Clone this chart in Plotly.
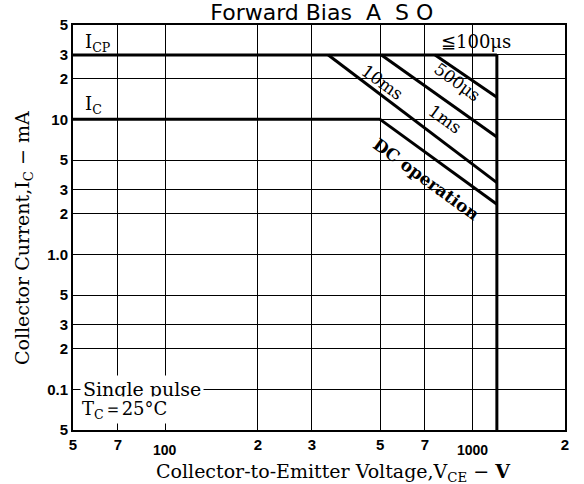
import plotly.graph_objects as go
import math

# ---- data ----
voltage_ticks = [50, 70, 100, 200, 300, 500, 700, 1000, 2000]
voltage_labels = ["5", "7", "", "2", "3", "5", "7", "", "2"]
voltage_decade_ticks = [100, 1000]
voltage_decade_labels = ["100", "1000"]
current_ticks = [0.05, 0.1, 0.2, 0.3, 0.5, 1, 2, 3, 5, 10, 20, 30, 50]
current_labels = ["5", "0.1", "2", "3", "5", "1.0", "2", "3", "5", "10", "2", "3", "5"]

icp_v = [50, 1200]
icp_i = [30, 30]
ic_v = [50, 500]
ic_i = [10, 10]
dc_v = [500, 1200]
dc_i = [10, 2.35]
ms10_v = [339, 1200]
ms10_i = [30, 3.4]
ms1_v = [505, 1200]
ms1_i = [30, 7.4]
us500_v = [755, 1200]
us500_i = [30, 14.6]
limit_v = [1200, 1200]
limit_i = [30, 0.05]

fig = go.Figure()
for xs, ys in [(icp_v, icp_i), (ic_v, ic_i), (dc_v, dc_i), (ms10_v, ms10_i),
               (ms1_v, ms1_i), (us500_v, us500_i), (limit_v, limit_i)]:
    fig.add_trace(go.Scatter(x=xs, y=ys, mode="lines",
                             line=dict(color="black", width=3),
                             showlegend=False, hoverinfo="skip"))

serif = "DejaVu Serif, Liberation Serif, serif"
lab = dict(font=dict(family=serif, size=17, color="black"), showarrow=False)

def ann(x, y, text, **kw):
    d = dict(lab)
    d.update(kw)
    fig.add_annotation(x=math.log10(x), y=math.log10(y), text=text, **d)

ann(54, 37.0, "I<sub>CP</sub>", xanchor="left", font=dict(family=serif, size=18, color="black"))
ann(54, 12.8, "I<sub>C</sub>", xanchor="left", font=dict(family=serif, size=18, color="black"))
ann(1030, 37.8, "≦100μs", font=dict(family=serif, size=18, color="black"))
ann(891, 18.8, "500μs", textangle=36)
ann(813, 10, "1ms", textangle=36)
ann(507, 18.8, "10ms", textangle=36)
ann(705, 3.6, "<b>DC operation</b>", textangle=36)
ann(52.5, 0.1, "Single pulse", xanchor="left", bgcolor="white", borderpad=2,
    font=dict(family=serif, size=19, color="black"))
ann(52.5, 0.07, "T<sub>C</sub>＝25°C", xanchor="left", bgcolor="white",
    font=dict(family=serif, size=18, color="black"))

tickfont = dict(family="Liberation Sans, Arial, sans-serif", size=15, color="black",
                weight="bold")

# second-row decade labels on the x axis
for v, t in zip(voltage_decade_ticks, voltage_decade_labels):
    fig.add_annotation(x=math.log10(v), y=0, xref="x", yref="paper", text=t,
                       showarrow=False, yanchor="middle", yshift=-20,
                       font=dict(family="Liberation Sans, Arial, sans-serif", size=14,
                                 color="black", weight="bold"))

# axis titles
fig.add_annotation(x=0.530, y=0, xref="paper", yref="paper", yshift=-42,
                   yanchor="middle", showarrow=False,
                   text="Collector-to-Emitter Voltage,V<sub>CE</sub> − <b>V</b>",
                   font=dict(family=serif, size=19, color="black"))
fig.add_annotation(x=0, y=0.474, xref="paper", yref="paper", xshift=-50,
                   xanchor="center", showarrow=False, textangle=-90,
                   text="Collector Current,I<sub>C</sub> − mA",
                   font=dict(family=serif, size=19, color="black"))

fig.update_xaxes(type="log", range=[math.log10(50), math.log10(2000)],
                 tickvals=voltage_ticks, ticktext=voltage_labels,
                 showgrid=True, gridcolor="black", gridwidth=1,
                 showline=True, linecolor="black", linewidth=2, mirror=True,
                 ticks="", tickfont=tickfont, tickangle=0, automargin=False,
                 zeroline=False)
fig.update_yaxes(type="log", range=[math.log10(0.05), math.log10(50)],
                 tickvals=current_ticks, ticktext=current_labels,
                 showgrid=True, gridcolor="black", gridwidth=1,
                 showline=True, linecolor="black", linewidth=2, mirror=True,
                 ticks="", tickfont=tickfont, automargin=False,
                 zeroline=False)

fig.update_layout(
    width=584, height=484,
    margin=dict(l=73, r=19, t=25, b=54),
    paper_bgcolor="white", plot_bgcolor="white",
    title=dict(text="Forward Bias\u00a0 A\u00a0 S O", xref="container", yref="container",
               x=0.551, y=0.975, xanchor="center", yanchor="middle",
               font=dict(family="DejaVu Sans, sans-serif", size=22, color="black")),
)

fig.write_html("out.html", config={"displayModeBar": False},
               post_script="document.body.style.margin='0';document.body.style.padding='0';")
